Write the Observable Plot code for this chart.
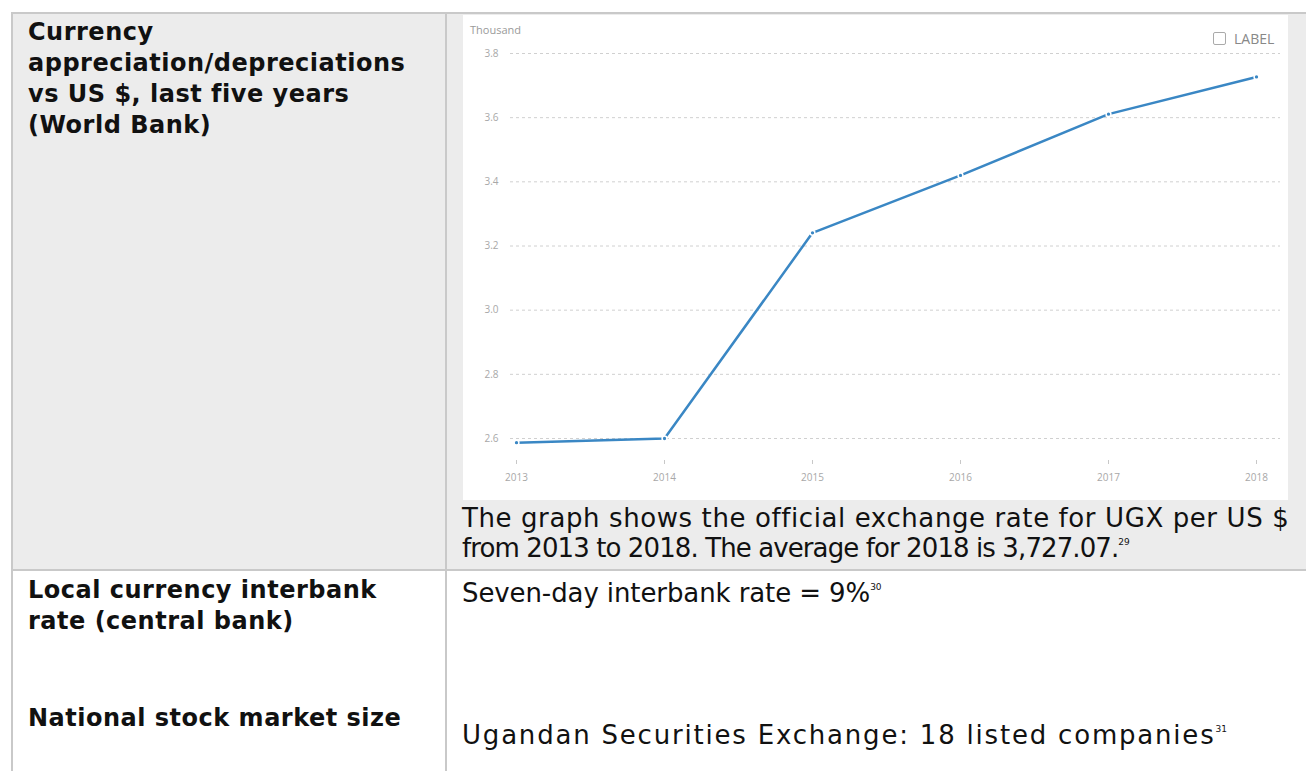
<!DOCTYPE html>
<html>
<head>
<meta charset="utf-8">
<script src="https://cdn.jsdelivr.net/npm/d3@7"></script>
<script src="https://cdn.jsdelivr.net/npm/@observablehq/plot@0.6"></script>
<style>
  html, body { margin: 0; padding: 0; background: #ffffff; }
  body { width: 1306px; height: 771px; position: relative; overflow: hidden; font-family: "DejaVu Sans", sans-serif; color: #111; }
  .abs { position: absolute; }
  .hdr { font-family: "DejaVu Sans", sans-serif; font-weight: bold; font-size: 24px; letter-spacing: 0.5px; line-height: 31px; color: #111; white-space: nowrap; }
  .body { font-family: "DejaVu Sans", sans-serif; font-size: 26px; line-height: 30px; color: #111; white-space: nowrap; }
  sup { font-size: 9px; vertical-align: 0; position: relative; top: -12px; letter-spacing: 0; }
  #chartbox { left: 463px; top: 15px; width: 825px; height: 485px; background: #fff; }
  .thousand { font-family: "Open Sans", sans-serif; font-size: 11px; color: #9a9a9a; }
  .lbl { font-family: "Open Sans", sans-serif; font-size: 14px; color: #888; display: flex; align-items: center; gap: 8px; }
  .box { width: 13px; height: 13px; border: 1px solid #aaa; border-radius: 2px; box-sizing: border-box; }
</style>
</head>
<body>
<!-- table backgrounds and rules -->
<div class="abs" style="left:13px; top:14px; width:1293px; height:556px; background:#ececec;"></div>
<div class="abs" style="left:11px; top:12px; width:1295px; height:2px; background:#c9c9c9;"></div>
<div class="abs" style="left:11px; top:12px; width:2px; height:759px; background:#c9c9c9;"></div>
<div class="abs" style="left:445px; top:12px; width:2px; height:759px; background:#c9c9c9;"></div>
<div class="abs" style="left:11px; top:569px; width:1295px; height:2px; background:#c9c9c9;"></div>

<div class="abs hdr" style="left:28px; top:17px;">Currency<br>appreciation/depreciations<br>vs US $, last five years<br>(World Bank)</div>
<div class="abs hdr" style="left:28px; top:575px;">Local currency interbank<br>rate (central bank)</div>
<div class="abs hdr" style="left:28px; top:703px;">National stock market size</div>

<div class="abs" id="chartbox">
  <div class="abs thousand" style="left:7px; top:7px;">Thousand</div>
  <div class="abs lbl" style="left:750px; top:14px;"><div class="box"></div><span>LABEL</span></div>
  <div id="chart" class="abs" style="left:0; top:0;"></div>
</div>

<div class="abs body" style="left:462px; top:503px;"><span style="letter-spacing:0.6px">The graph shows the official exchange rate for UGX per US $</span><br><span style="letter-spacing:-0.9px">from 2013 to 2018. The average for 2018 is 3,727.07.</span><sup>29</sup></div>
<div class="abs body" style="left:462px; top:578px;"><span style="letter-spacing:-0.1px">Seven-day interbank rate = 9%</span><sup>30</sup></div>
<div class="abs body" style="left:462px; top:720px;"><span style="letter-spacing:1.8px">Ugandan Securities Exchange: 18 listed companies</span><sup>31</sup></div>

<script>
const years = [2013, 2014, 2015, 2016, 2017, 2018];
const rateThousands = [2.587, 2.600, 3.241, 3.420, 3.611, 3.727];
const yTicks = [2.6, 2.8, 3.0, 3.2, 3.4, 3.6, 3.8];

const data = years.map((y, i) => ({year: y, rate: rateThousands[i]}));
const blue = "#3a87c4";

const plot = Plot.plot({
  width: 825,
  height: 485,
  marginLeft: 47,
  marginRight: 8,
  marginTop: 38,
  marginBottom: 62,
  style: {fontFamily: "Open Sans, sans-serif", fontSize: "10px", color: "#9a9a9a", background: "transparent"},
  x: {domain: [2013, 2018], insetLeft: 6, insetRight: 24},
  y: {domain: [2.6, 3.8]},
  marks: [
    Plot.gridY(yTicks, {stroke: "#d0d0d0", strokeOpacity: 1, strokeDasharray: "3,3"}),
    Plot.axisY(yTicks, {tickSize: 0, tickPadding: 12, tickFormat: d3.format(".1f"), label: null, fill: "#a8a8a8", fontSize: 10}),
    Plot.axisX(years, {tickSize: 4, dy: 22, tickPadding: 9, tickFormat: d => String(d), label: null, stroke: "#c8c8c8", fill: "#a8a8a8", fontSize: 10}),
    Plot.line(data, {x: "year", y: "rate", stroke: blue, strokeWidth: 2.5}),
    Plot.dot(data, {x: "year", y: "rate", r: 2.4, fill: blue, stroke: "#fff", strokeWidth: 1.5})
  ]
});
document.getElementById("chart").appendChild(plot);
</script>
</body>
</html>
